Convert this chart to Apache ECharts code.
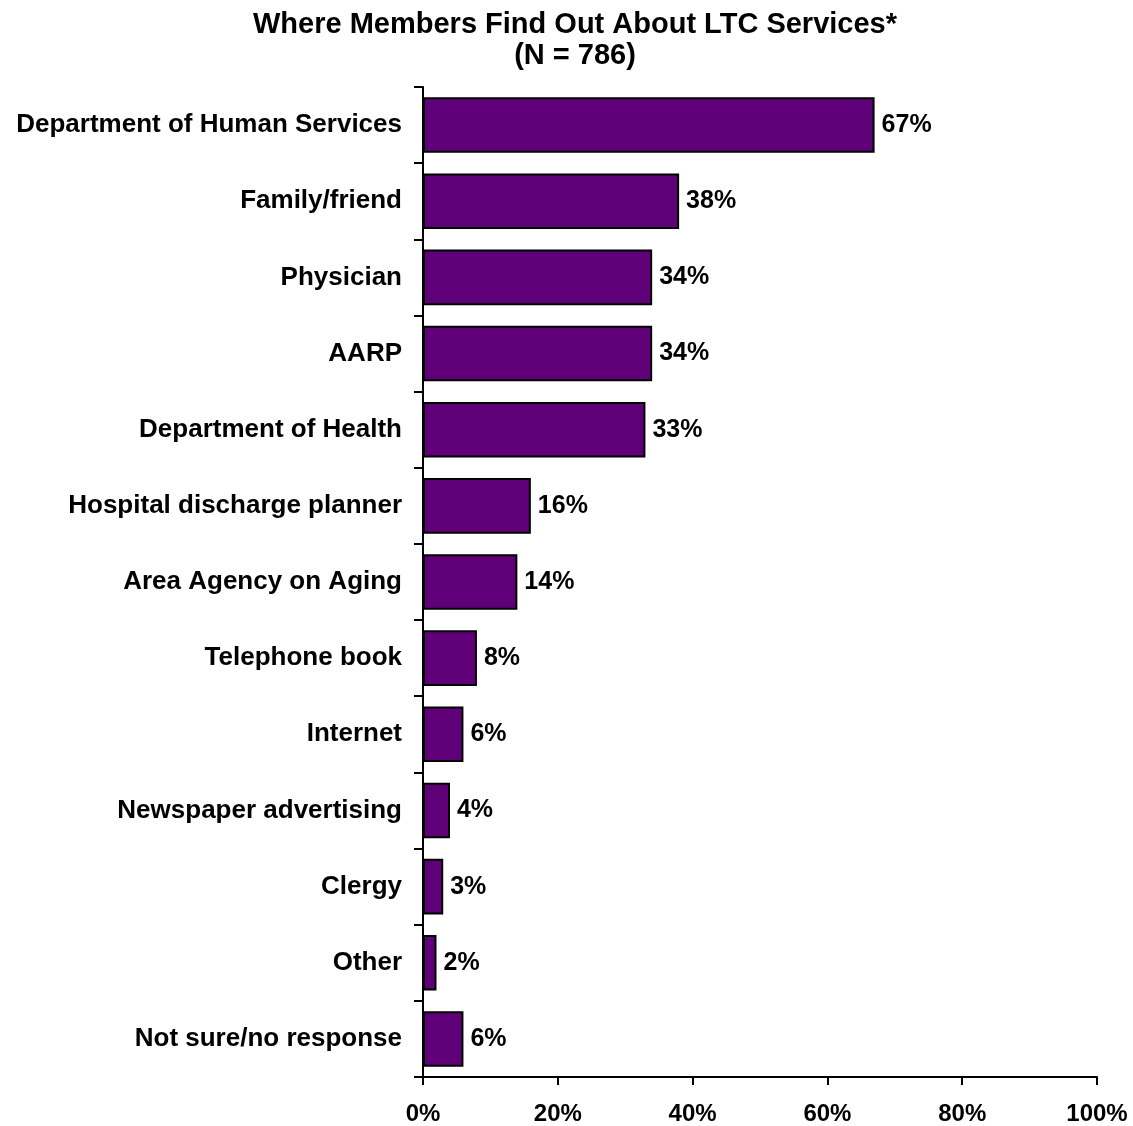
<!DOCTYPE html>
<html>
<head>
<meta charset="utf-8">
<script src="https://cdn.jsdelivr.net/npm/echarts@6/dist/echarts.min.js"></script>
<style>
  html, body { margin: 0; padding: 0; background: #fff; }
  #chart { width: 1133px; height: 1126px; }
</style>
</head>
<body>
<div id="chart"></div>
<script>
const categories = [
  'Department of Human Services',
  'Family/friend',
  'Physician',
  'AARP',
  'Department of Health',
  'Hospital discharge planner',
  'Area Agency on Aging',
  'Telephone book',
  'Internet',
  'Newspaper advertising',
  'Clergy',
  'Other',
  'Not sure/no response'
]
const values = [67, 38, 34, 34, 33, 16, 14, 8, 6, 4, 3, 2, 6]
const xTicks = [0, 20, 40, 60, 80, 100]

const font = '"Liberation Sans", Arial, sans-serif'

const chart = echarts.init(document.getElementById('chart'))
chart.setOption({
  animation: false,
  title: {
    text: 'Where Members Find Out About LTC Services*\n(N = 786)',
    left: 570,
    textAlign: 'center',
    top: 4,
    textStyle: {
      fontFamily: font,
      fontWeight: 'bold',
      fontSize: 29,
      lineHeight: 31,
      color: '#000'
    }
  },
  grid: {
    left: 423,
    right: 36,
    top: 87,
    bottom: 49,
    containLabel: false
  },
  xAxis: {
    type: 'value',
    min: 0,
    max: 100,
    interval: 20,
    axisLine: { show: true, lineStyle: { color: '#000', width: 2 } },
    axisTick: { show: true, length: 8, lineStyle: { color: '#000', width: 2 } },
    splitLine: { show: false },
    axisLabel: {
      margin: 25,
      fontFamily: font,
      fontWeight: 'bold',
      fontSize: 24,
      color: '#000',
      formatter: v => (xTicks.includes(v) ? v + '%' : '')
    }
  },
  yAxis: {
    type: 'category',
    inverse: true,
    data: categories,
    axisLine: { show: true, lineStyle: { color: '#000', width: 2 } },
    axisTick: { show: true, length: 9, lineStyle: { color: '#000', width: 2 } },
    axisLabel: {
      margin: 21,
      fontFamily: font,
      fontWeight: 'bold',
      fontSize: 26,
      color: '#000'
    }
  },
  series: [{
    type: 'bar',
    data: values,
    barCategoryGap: '27%',
    itemStyle: {
      color: '#600078',
      borderColor: '#000',
      borderWidth: 2
    },
    label: {
      show: true,
      position: 'right',
      distance: 7,
      formatter: '{c}%',
      fontFamily: font,
      fontWeight: 'bold',
      fontSize: 25,
      color: '#000'
    }
  }]
})
</script>
</body>
</html>
